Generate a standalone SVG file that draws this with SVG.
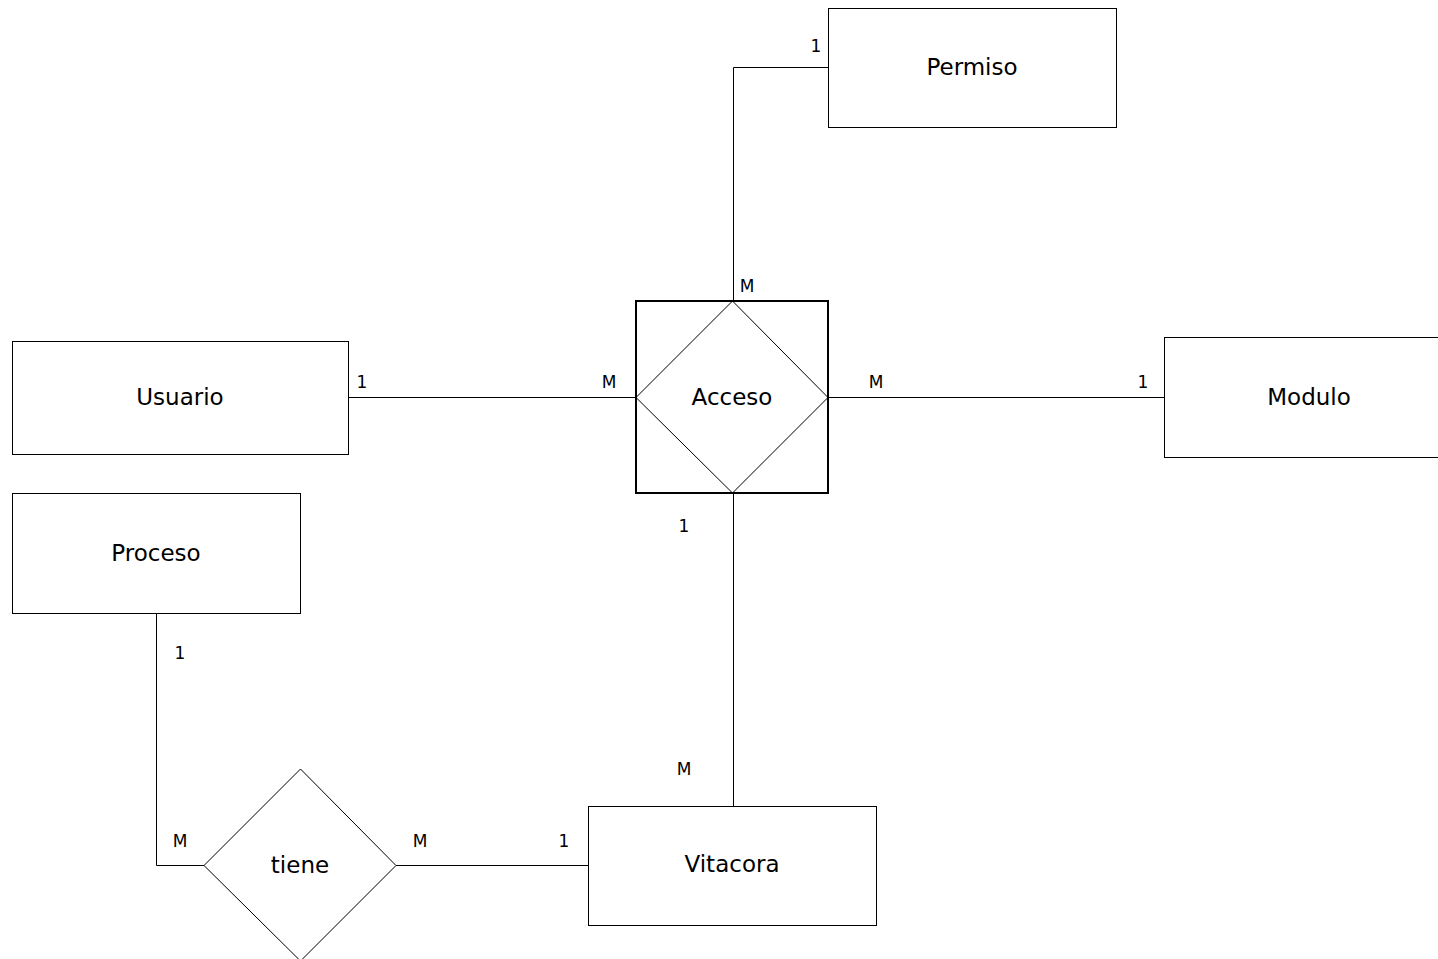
<svg xmlns="http://www.w3.org/2000/svg" width="1438" height="959" viewBox="0 0 1438 959">
<style>
.box{fill:#fff;stroke:#000;stroke-width:1}
.thick{fill:#fff;stroke:#000;stroke-width:2}
.dia{fill:none;stroke:#000;stroke-width:1}
.ln{fill:none;stroke:#000;stroke-width:1}
.t{font-family:"DejaVu Sans","Liberation Sans",sans-serif;font-size:23px;text-anchor:middle;dominant-baseline:central;fill:#000}
.c{font-family:"DejaVu Sans","Liberation Sans",sans-serif;font-size:17px;text-anchor:middle;dominant-baseline:central;fill:#000}
</style>
<rect width="1438" height="959" fill="#fff"/>
<g id="connectors">
<polyline class="ln" points="828.5,67.5 733.5,67.5 733.5,301"/>
<line class="ln" x1="348" y1="397.5" x2="636" y2="397.5"/>
<line class="ln" x1="828" y1="397.5" x2="1164" y2="397.5"/>
<line class="ln" x1="733.5" y1="493" x2="733.5" y2="806"/>
<polyline class="ln" points="156.5,613 156.5,865.5 204,865.5"/>
<line class="ln" x1="396" y1="865.5" x2="588" y2="865.5"/>
<text class="c" x="816" y="46">1</text>
<text class="c" x="747" y="286">M</text>
<text class="c" x="362" y="382">1</text>
<text class="c" x="609" y="382">M</text>
<text class="c" x="876" y="382">M</text>
<text class="c" x="1143" y="382">1</text>
<text class="c" x="684" y="526">1</text>
<text class="c" x="684" y="769">M</text>
<text class="c" x="180" y="653">1</text>
<text class="c" x="180" y="841">M</text>
<text class="c" x="420" y="841">M</text>
<text class="c" x="564" y="841">1</text>
</g>
<g id="permiso">
<rect class="box" x="828.5" y="8.5" width="288" height="119"/>
<text class="t" x="972" y="67">Permiso</text>
</g>
<g id="usuario">
<rect class="box" x="12.5" y="341.5" width="336" height="113"/>
<text class="t" x="180" y="397">Usuario</text>
</g>
<g id="modulo">
<rect class="box" x="1164.5" y="337.5" width="290" height="120"/>
<text class="t" x="1309" y="397">Modulo</text>
</g>
<g id="proceso">
<rect class="box" x="12.5" y="493.5" width="288" height="120"/>
<text class="t" x="156" y="553">Proceso</text>
</g>
<g id="vitacora">
<rect class="box" x="588.5" y="806.5" width="288" height="119"/>
<text class="t" x="732" y="864">Vitacora</text>
</g>
<g id="acceso">
<rect class="thick" x="636" y="301" width="192" height="192"/>
<polygon class="dia" points="732.5,301 828,397.5 732.5,493 636,397.5"/>
<text class="t" x="732" y="397">Acceso</text>
</g>
<g id="tiene">
<polygon class="box" points="300.5,769 396,865.5 300.5,961 204,865.5"/>
<text class="t" x="300" y="865">tiene</text>
</g>
</svg>
